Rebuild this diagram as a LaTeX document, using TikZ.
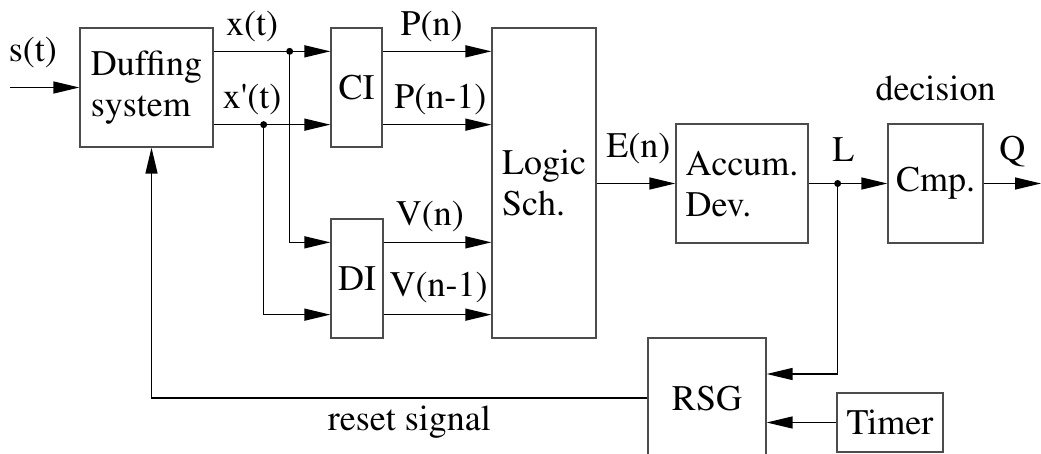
\documentclass[tikz,border=0pt]{standalone}
\usepackage[T1]{fontenc}
\renewcommand{\rmdefault}{ptm}
\usetikzlibrary{arrows.meta,positioning}

\begin{document}
\begin{tikzpicture}[x=1pt, y=-1pt, font=\fontsize{36}{41}\selectfont,
    block/.style = {draw=black!70, line width=1.3pt, rectangle, inner sep=0pt, align=left},
    lbl/.style = {inner sep=0pt},
    sig/.style = {line width=1.4pt, -{Triangle[length=26pt,width=12pt]}}]

            \useasboundingbox (0,0) rectangle (1041,454);
            \clip (0,0) rectangle (1041,454);

            \node[block, minimum width=133pt, minimum height=119pt] (duff) at (146.5,87.5) {Duffing\\system};
            \node[block, minimum width=51pt, minimum height=119pt] (ci) at (356.5,87.5) {CI};
            \node[block, minimum width=52pt, minimum height=119pt] (di) at (357,278.5) {DI};
            \node[block, minimum width=104pt, minimum height=310pt] (logic) at (544,183) {Logic\\Sch.};
            \node[block, minimum width=132pt, minimum height=119pt] (accum) at (742,183.5) {Accum.\\Dev.};
            \node[block, minimum width=95pt, minimum height=119pt] (cmp) at (935.5,183.5) {Cmp.};
            \node[block, minimum width=118pt, minimum height=120pt] (rsg) at (707,398) {RSG};
            \node[block, minimum width=106pt, minimum height=59pt] (timer) at (890,422.5) {Timer};
            \node[lbl, above=22pt of cmp] (dec) {decision};

            \coordinate (sin) at (10,87.5);
            \coordinate (xa) at ([yshift=-24pt]duff.north east);
            \coordinate (xb) at ([yshift=23pt]duff.south east);
            \coordinate (xdot) at ([xshift=76pt]xa);
            \coordinate (xbdot) at ([xshift=50pt]xb);
            \coordinate (pa) at ([yshift=-24pt]ci.north east);
            \coordinate (pb) at ([yshift=23pt]ci.south east);
            \coordinate (va) at ([yshift=-24pt]di.north east);
            \coordinate (vb) at ([yshift=24pt]di.south east);
            \coordinate (ldot) at ([xshift=29pt]accum.east);
            \coordinate (qout) at (1041,183.5);

            \path[sig] (sin) edge node[lbl, above=19pt, pos=.33] {s(t)} (duff);
            \path[sig] (xa) edge node[lbl, above=9pt, pos=.33] {x(t)} (xa -| ci.west);
            \path[sig] (xb) edge node[lbl, above=9pt, pos=.33] {x\textquotesingle(t)} (xb -| ci.west);
            \draw[sig] (xdot) |- ([yshift=-24pt]di.north west);
            \draw[sig] (xbdot) |- ([yshift=24pt]di.south west);

            \path[sig] (pa) edge node[lbl, above=9pt, pos=.45] {P(n)} (pa -| logic.west);
            \path[sig] (pb) edge node[lbl, above=9pt, pos=.53] {P(n-1)} (pb -| logic.west);
            \path[sig] (va) edge node[lbl, above=10pt, pos=.43] {V(n)} (va -| logic.west);
            \path[sig] (vb) edge node[lbl, above=11pt, pos=.51] {V(n-1)} (vb -| logic.west);

            \path[sig] (accum.west -| logic.east) edge node[lbl, above=19pt, pos=.53] {E(n)} (accum.west);
            \path[sig] (accum.east) edge node[lbl, above=21pt, pos=.44] {L} (cmp.west);
            \path[sig] (cmp.east) edge node[lbl, above=16pt, pos=.5] {Q} (qout);

            \draw[sig] (ldot) |- ([yshift=24pt]rsg.east);
            \path[sig] (timer.west) edge (timer.west -| rsg.east);
            \draw[sig] (rsg.west) -| node[lbl, below=7pt, pos=.24] {reset signal} ([xshift=5pt]duff.south);

            \fill (xdot) circle (3.5pt) (xbdot) circle (3.5pt) (ldot) circle (3.5pt);
        \end{tikzpicture}
\end{document}
